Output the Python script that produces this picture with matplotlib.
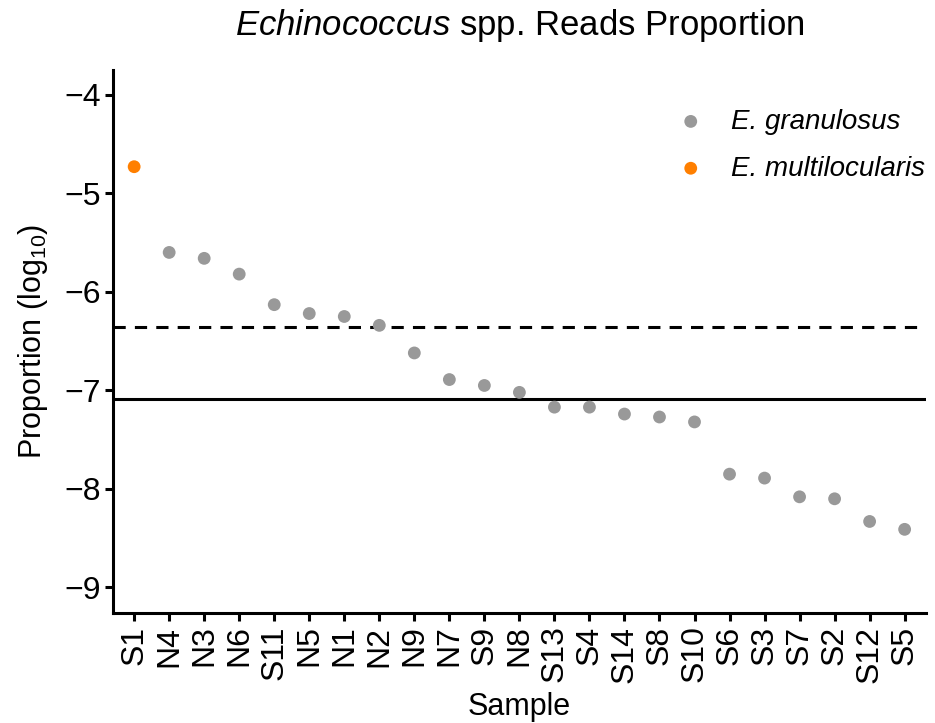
import numpy as np
import matplotlib.pyplot as plt

plt.rcParams['font.family'] = ['Liberation Sans', 'DejaVu Sans']
plt.rcParams['mathtext.fontset'] = 'custom'
plt.rcParams['mathtext.rm'] = 'Liberation Sans'
plt.rcParams['mathtext.it'] = 'Liberation Sans:italic'

samples = ['S1', 'N4', 'N3', 'N6', 'S11', 'N5', 'N1', 'N2', 'N9', 'N7', 'S9', 'N8',
           'S13', 'S4', 'S14', 'S8', 'S10', 'S6', 'S3', 'S7', 'S2', 'S12', 'S5']
proportion = [-4.73, -5.60, -5.66, -5.82, -6.13, -6.22, -6.25, -6.34, -6.62, -6.89,
              -6.95, -7.02, -7.17, -7.17, -7.24, -7.27, -7.32, -7.85, -7.89, -8.08,
              -8.10, -8.33, -8.41]
species = ['E. multilocularis'] + ['E. granulosus'] * 22
dashed_line = -6.36
solid_line = -7.09

colors = {'E. granulosus': '#999999', 'E. multilocularis': '#FF7F00'}

fig = plt.figure(figsize=(9.35, 7.23), dpi=100)
ax = fig.add_axes([0.121, 0.152, 0.869, 0.751])

x = np.arange(len(samples))
for sp in ['E. granulosus', 'E. multilocularis']:
    idx = [i for i, s in enumerate(species) if s == sp]
    ax.scatter(x[idx], [proportion[i] for i in idx], s=85, color=colors[sp],
               edgecolors='none', label=sp, zorder=3)

ax.axhline(dashed_line, color='black', lw=2.2, ls=(0, (4, 3)))
ax.axhline(solid_line, color='black', lw=2.2)

ax.set_xlim(-0.6, len(samples) - 0.4)
ax.set_ylim(-9.26, -3.75)
ax.set_yticks([-9, -8, -7, -6, -5, -4])
ax.set_yticklabels(['\u22129', '\u22128', '\u22127', '\u22126', '\u22125', '\u22124'])
ax.set_xticks(x)
ax.set_xticklabels(samples, rotation=90)
ax.tick_params(labelsize=23, width=2.2, length=6, color='black', labelcolor='black', pad=3)

for side in ['top', 'right']:
    ax.spines[side].set_visible(False)
for side in ['left', 'bottom']:
    ax.spines[side].set_linewidth(2.2)

ax.set_xlabel('Sample', fontsize=22, labelpad=7)
ax.set_ylabel('Proportion (log$_{10}$)', fontsize=22, labelpad=10)
ax.set_title('$\\it{Echinococcus}$ spp. Reads Proportion', fontsize=25, pad=25)

leg = ax.legend(loc='upper right', frameon=False, prop={'style': 'italic', 'size': 20},
                handletextpad=0.45, labelspacing=0.75, bbox_to_anchor=(1.03, 0.975))

fig.savefig('out.png', dpi=100)
